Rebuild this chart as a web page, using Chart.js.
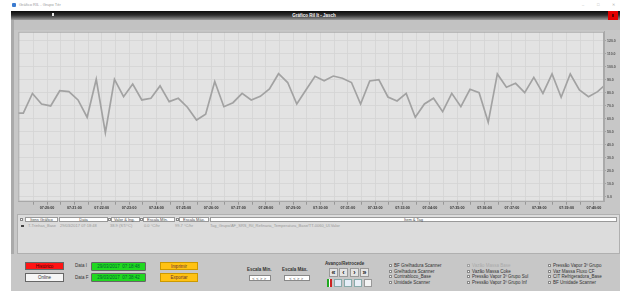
<!DOCTYPE html>
<html><head><meta charset="utf-8">
<script src="https://cdn.jsdelivr.net/npm/chart.js@4/dist/chart.umd.min.js"></script>
<style>
html,body{margin:0;padding:0;background:#fff;width:634px;height:291px;overflow:hidden;font-family:"Liberation Sans",Arial,sans-serif;}
.a{position:absolute;box-sizing:border-box;}
.t{position:absolute;font-size:4.5px;line-height:4.5px;white-space:nowrap;color:#333;}
.cb{position:absolute;width:3px;height:3px;background:#fff;border:0.5px solid #888;box-sizing:border-box;}
.hb{position:absolute;top:217px;height:5px;background:#fff;border:0.5px solid #999;box-sizing:border-box;font-size:4px;line-height:4px;text-align:center;color:#444;white-space:nowrap;}
.btn{position:absolute;box-sizing:border-box;font-size:4.5px;line-height:7px;text-align:center;white-space:nowrap;border:0.6px solid #666;}
.nb{position:absolute;top:268px;width:9px;height:9px;background:#e4e4e4;border:0.5px solid #999;box-sizing:border-box;font-size:7px;line-height:8px;text-align:center;color:#222;font-weight:bold;}
.sb{position:absolute;top:275px;height:6px;background:#fff;border:0.5px solid #888;box-sizing:border-box;font-size:4px;line-height:5px;text-align:center;color:#333;letter-spacing:1.5px;white-space:nowrap;}
</style></head><body>
<!-- OS title bar -->
<div class="a" style="left:12px;top:3px;width:4px;height:4px;background:#3b7bd0;border-radius:1px"></div>
<div class="t" style="left:19px;top:3px;font-size:4px;color:#9a9a9a">Gráfico RIL - Grupo Tér</div>
<div class="t" style="left:582px;top:3px;font-size:4px;color:#b0b0b0">–</div>
<div class="t" style="left:597px;top:3px;font-size:4px;color:#b0b0b0">□</div>
<div class="t" style="left:612px;top:3px;font-size:4px;color:#b0b0b0">✕</div>
<!-- window -->
<div class="a" style="left:11px;top:11px;width:609px;height:280px;background:#c7c7c7"></div>
<div class="a" style="left:11px;top:11px;width:609px;height:9px;background:linear-gradient(#0c0c0c,#2e2e2e 45%,#9a9a9a)"></div>
<div class="a" style="left:52px;top:13px;width:2px;height:3px;background:#e8e8e8"></div>
<div class="t" style="left:264px;top:13.5px;width:100px;text-align:center;color:#f4f4f4;font-weight:bold;font-size:4.5px">Gráfico Ril It - Jasch</div>
<div class="a" style="left:608px;top:11px;width:10px;height:9px;background:#e40000"></div>
<div class="a" style="left:612px;top:14px;width:2px;height:3px;background:#600"></div>
<div class="a" style="left:11px;top:20px;width:3px;height:234px;background:#aaaaaa"></div>
<div class="a" style="left:14px;top:20px;width:606px;height:10px;background:#c2c2c2"></div>
<!-- table panel -->
<div class="a" style="left:17px;top:214px;width:603px;height:40px;background:#dcdcdc;border:0.6px solid #b0b0b0"></div>
<div class="cb" style="left:19.5px;top:218px"></div>
<div class="hb" style="left:25px;width:33px">Itens Gráfico</div>
<div class="hb" style="left:59px;width:49px">Data</div>
<div class="cb" style="left:108px;top:218px"></div>
<div class="hb" style="left:111px;width:29px;text-align:left;padding-left:2px">Valor &amp; Ing.</div>
<div class="cb" style="left:140px;top:218px"></div>
<div class="hb" style="left:143px;width:32px;text-align:left;padding-left:3px">Escala Mín.</div>
<div class="cb" style="left:176px;top:218px"></div>
<div class="hb" style="left:179px;width:30px;text-align:left;padding-left:3px">Escala Máx.</div>
<div class="hb" style="left:210px;width:407px">Item &amp; Tag</div>
<div class="a" style="left:21px;top:224.5px;width:2.5px;height:2.5px;background:#444"></div>
<div class="t" style="left:28px;top:224px;font-size:4px;color:#999">T-Trinhas_Base</div>
<div class="t" style="left:60px;top:224px;font-size:4px;color:#999">29/03/2017 07:18:48</div>
<div class="t" style="left:110px;top:224px;font-size:4px;color:#999">38.9 (ST/°C)</div>
<div class="t" style="left:144px;top:224px;font-size:4px;color:#999">0.0 °C/hr</div>
<div class="t" style="left:175px;top:224px;font-size:4px;color:#999">99.7 °C/hr</div>
<div class="t" style="left:210px;top:224px;font-size:4px;color:#999">Tag_Grupo/AF_SRS_Ril_Refinaria_Temperatura_Base/TT-0060_Ul.Valor</div>
<!-- bottom controls -->
<div class="btn" style="left:25px;top:262px;width:39px;height:8px;background:#ff1414;color:#400">Histórico</div>
<div class="btn" style="left:25px;top:273px;width:39px;height:9px;background:#f6f6f6;color:#333;line-height:8px">Online</div>
<div class="t" style="left:75px;top:264px;color:#333">Data I</div>
<div class="t" style="left:75px;top:276px;color:#333">Data F</div>
<div class="btn" style="left:91px;top:261.5px;width:55px;height:9px;background:#20d820;color:#063;border-radius:1px;line-height:8px">29/03/2017 &nbsp;07:18:48</div>
<div class="btn" style="left:91px;top:273px;width:55px;height:9px;background:#20d820;color:#063;border-radius:1px;line-height:8px">29/03/2017 &nbsp;07:38:42</div>
<div class="btn" style="left:160px;top:262px;width:38px;height:8px;background:#ffc213;color:#633;border-color:#c90">Imprimir</div>
<div class="btn" style="left:160px;top:273px;width:38px;height:9px;background:#ffc213;color:#633;border-color:#c90;line-height:8px">Exportar</div>
<div class="t" style="left:247px;top:268px;font-weight:bold;color:#333">Escala Mín.</div>
<div class="t" style="left:282px;top:268px;font-weight:bold;color:#333">Escala Máx.</div>
<div class="sb" style="left:249px;width:22px">&lt;&lt;&gt;&gt;</div>
<div class="sb" style="left:284px;width:26px">&lt;&lt;&gt;&gt;</div>
<div class="t" style="left:325px;top:262px;font-weight:bold;color:#333">Avanço/Retrocede</div>
<div class="nb" style="left:329px">«</div>
<div class="nb" style="left:339px">‹</div>
<div class="nb" style="left:350px">›</div>
<div class="nb" style="left:360px">»</div>
<div class="a" style="left:327px;top:279px;width:5px;height:8px;background:linear-gradient(90deg,#2a2 0 40%,#fff 40% 60%,#c22 60%)"></div>
<div class="a" style="left:334px;top:279px;width:8px;height:8px;background:#dfe8f4;border:0.5px solid #8aa"></div>
<div class="a" style="left:344px;top:279px;width:8px;height:8px;background:#e6eef8;border:0.5px solid #8aa"></div>
<div class="a" style="left:354px;top:279px;width:8px;height:8px;background:#eaf0f8;border:0.5px solid #8aa"></div>
<div class="a" style="left:364px;top:279px;width:8px;height:8px;background:#f4f4f4;border:0.5px solid #999"></div>
<!-- checkbox lists -->
<div class="cb" style="left:389px;top:263.5px"></div><div class="t" style="left:394px;top:263.5px">BF Grelhadura Scanner</div>
<div class="cb" style="left:389px;top:269.5px"></div><div class="t" style="left:394px;top:269.5px">Grelhadura Scanner</div>
<div class="cb" style="left:389px;top:275px"></div><div class="t" style="left:394px;top:275px">Contrabloco_Base</div>
<div class="cb" style="left:389px;top:281px"></div><div class="t" style="left:394px;top:281px">Umidade Scanner</div>
<div class="cb" style="left:467px;top:263.5px;opacity:.6"></div><div class="t" style="left:472px;top:263.5px;color:#aaa">Vazão Massa Base</div>
<div class="cb" style="left:467px;top:269.5px"></div><div class="t" style="left:472px;top:269.5px">Vazão Massa Coke</div>
<div class="cb" style="left:467px;top:275px"></div><div class="t" style="left:472px;top:275px">Pressão Vapor 3º Grupo Sul</div>
<div class="cb" style="left:467px;top:281px"></div><div class="t" style="left:472px;top:281px">Pressão Vapor 3º Grupo Inf</div>
<div class="cb" style="left:548px;top:263.5px"></div><div class="t" style="left:553px;top:263.5px">Pressão Vapor 3º Grupo</div>
<div class="cb" style="left:548px;top:269.5px"></div><div class="t" style="left:553px;top:269.5px">Vaz Massa Fluxo CF</div>
<div class="cb" style="left:548px;top:275px"></div><div class="t" style="left:553px;top:275px">CIT Refrigeradora_Base</div>
<div class="cb" style="left:548px;top:281px"></div><div class="t" style="left:553px;top:281px">BF Umidade Scanner</div>

<canvas id="c" width="609" height="196" style="position:absolute;left:11px;top:21px;width:609px;height:196px"></canvas>
<script>
const times = ['07:18:48','07:19:08','07:19:28','07:19:48','07:20:08','07:20:28','07:20:48','07:21:08','07:21:28','07:21:48',
 '07:22:08','07:22:28','07:22:48','07:23:08','07:23:28','07:23:48','07:24:08','07:24:28','07:24:48','07:25:08',
 '07:25:28','07:25:48','07:26:08','07:26:28','07:26:48','07:27:08','07:27:28','07:27:48','07:28:08','07:28:28',
 '07:28:48','07:29:08','07:29:28','07:29:48','07:30:08','07:30:28','07:30:48','07:31:08','07:31:28','07:31:48',
 '07:32:08','07:32:28','07:32:48','07:33:08','07:33:28','07:33:48','07:34:08','07:34:28','07:34:48','07:35:08',
 '07:35:28','07:35:48','07:36:08','07:36:28','07:36:48','07:37:08','07:37:28','07:37:48','07:38:08','07:38:28',
 '07:38:48','07:39:08','07:39:28','07:39:48','07:40:08','07:40:28'];
const values = [64.4,64.2,79.4,71.3,69.8,81.5,80.8,74.4,61.1,90.3,
 49.2,90.3,76.9,86.7,74.4,75.7,85.2,73.1,75.7,68.8,
 59.0,63.4,88.6,69.2,72.3,79.5,74.4,77.2,82.8,94.6,
 87.8,71.3,82.1,92.6,89.2,92.8,91.1,87.8,71.3,89.0,
 90.0,76.7,73.6,79.5,61.1,71.3,75.7,65.4,79.5,69.2,
 82.6,80.0,57.2,94.4,84.2,87.2,80.0,91.8,79.5,94.4,
 76.5,94.4,82.1,76.9,80.8,87.1];
const xTickLabels = ['07:20:00','07:21:00','07:22:00','07:23:00','07:24:00','07:25:00','07:26:00','07:27:00','07:28:00','07:29:00',
 '07:30:00','07:31:00','07:32:00','07:33:00','07:34:00','07:35:00','07:36:00','07:37:00','07:38:00','07:39:00','07:40:00'];
const yTickLabels = ['0.0','10.0','20.0','30.0','40.0','50.0','60.0','70.0','80.0','90.0','100.0','110.0','120.0'];
const xViewStart = '07:18:57', xViewEnd = '07:40:22';
const yViewMin = -3.85, yViewMax = 126.9;

const toSec = s => { const p = s.split(':').map(Number); return p[0]*3600 + p[1]*60 + p[2]; };
const pad = n => String(n).padStart(2,'0');
const fmt = v => pad(Math.floor(v/3600)) + ':' + pad(Math.floor(v%3600/60)) + ':' + pad(Math.round(v%60));

const points = times.map((t,i) => ({x: toSec(t), y: values[i]}));

const plotBg = {
  id:'plotBg',
  beforeDraw(chart){
    const {ctx, chartArea:a} = chart;
    ctx.save();
    ctx.fillStyle = '#e3e3e3';
    ctx.fillRect(a.left, a.top, a.right-a.left, a.bottom-a.top);
    ctx.restore();
  },
  afterDraw(chart){
    const {ctx, chartArea:a} = chart;
    ctx.save();
    ctx.strokeStyle = '#a9a9a9';
    ctx.lineWidth = 1;
    ctx.strokeRect(a.left+0.5, a.top+0.5, a.right-a.left-1, a.bottom-a.top-1);
    ctx.restore();
  }
};

new Chart(document.getElementById('c'), {
  type:'line',
  data:{ datasets:[{ data: points, borderColor:'#a2a2a2', borderWidth:1.7, pointRadius:0, tension:0, clip:0 }]},
  options:{
    responsive:false, animation:false, devicePixelRatio:1,
    layout:{ padding:{ left:7.3, top:10.7, right:0, bottom:0 } },
    plugins:{ legend:{display:false}, tooltip:{enabled:false} },
    scales:{
      x:{ type:'linear', min: toSec(xViewStart), max: toSec(xViewEnd),
        afterBuildTicks: s => {
          const first = toSec(xTickLabels[0]) - 30, t = [];
          for (let v = first; v <= s.max; v += 30) if (v >= s.min) t.push({value:v});
          s.ticks = t;
        },
        afterFit: s => { s.height = 15.3; },
        grid:{ color:'#d4d4d4', lineWidth:0.8, tickLength:3, tickColor:'#8a8a8a' },
        border:{ color:'#a9a9a9' },
        ticks:{ autoSkip:false, maxRotation:0, padding:1.5, color:'#333',
          font:{ family:'Liberation Sans', size:3.7, weight:'bold' },
          callback: v => xTickLabels.includes(fmt(v)) ? fmt(v) : '' }
      },
      y:{ type:'linear', position:'right', min:yViewMin, max:yViewMax,
        afterBuildTicks: s => { s.ticks = yTickLabels.map(l => ({value: parseFloat(l)})); },
        afterFit: s => { s.width = 16; },
        grid:{ color:'#d4d4d4', lineWidth:0.8, tickLength:2, tickColor:'#999' },
        border:{ color:'#a9a9a9' },
        ticks:{ padding:1, color:'#555', font:{ family:'Liberation Sans', size:3.5, weight:'bold' },
          callback: v => yTickLabels.find(l => parseFloat(l) === v) }
      }
    }
  },
  plugins:[plotBg]
});
</script>
</body></html>
